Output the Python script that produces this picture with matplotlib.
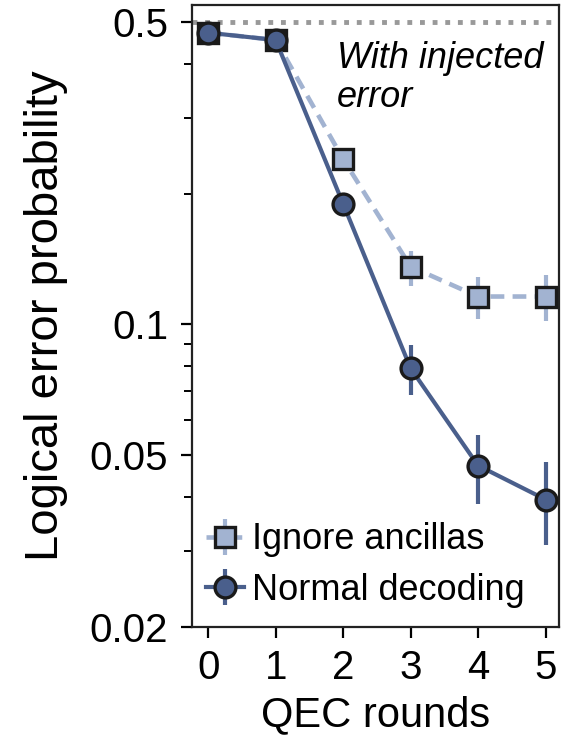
import matplotlib
matplotlib.use("Agg")
import matplotlib.pyplot as plt
import matplotlib.ticker as mticker
import numpy as np

plt.rcParams['font.family'] = ['Liberation Sans', 'DejaVu Sans']

# data
rounds = [0, 1, 2, 3, 4, 5]

normal = [0.472, 0.454, 0.190, 0.0792, 0.0472, 0.0394]
normal_lo = [0.472, 0.454, 0.190, 0.0687, 0.0385, 0.0309]
normal_hi = [0.472, 0.454, 0.190, 0.0895, 0.0556, 0.0480]

ignore = [0.472, 0.454, 0.241, 0.136, 0.116, 0.116]
ignore_lo = [0.472, 0.454, 0.241, 0.123, 0.103, 0.102]
ignore_hi = [0.472, 0.454, 0.241, 0.148, 0.129, 0.130]

yticks = [0.02, 0.05, 0.1, 0.5]
ytick_labels = ['0.02', '0.05', '0.1', '0.5']

dark = '#4a5f8c'
light = '#a2b3d1'

fig = plt.figure(figsize=(5.62, 7.44), dpi=100)
ax = fig.add_axes([0.3416, 0.1573, 0.6531, 0.836])

ax.axhline(0.5, color='#999999', ls=(0, (1, 1.6)), lw=3.5, zorder=1)

def err(v, lo, hi):
    v, lo, hi = np.array(v), np.array(lo), np.array(hi)
    return [v - lo, hi - v]

ax.errorbar(rounds, ignore, yerr=err(ignore, ignore_lo, ignore_hi),
            color=light, ls=(0, (3, 1.8)), lw=3.3, elinewidth=3, capsize=0,
            marker='s', ms=15, mfc=light, mec='#1a1a1a', mew=2.4,
            label='Ignore ancillas', zorder=2)
ax.errorbar(rounds, normal, yerr=err(normal, normal_lo, normal_hi),
            color=dark, ls='-', lw=3, elinewidth=3, capsize=0,
            marker='o', ms=15, mfc=dark, mec='#1a1a1a', mew=2.4,
            label='Normal decoding', zorder=3)

ax.set_yscale('log')
ax.set_ylim(0.02, 0.547)
ax.set_xlim(-0.24, 5.2)
ax.set_yticks(yticks)
ax.set_yticklabels(ytick_labels)
ax.yaxis.set_minor_locator(mticker.LogLocator(base=10, subs=np.arange(2, 10)))
ax.yaxis.set_minor_formatter(mticker.NullFormatter())
ax.set_xticks(rounds)

ax.tick_params(axis='both', which='major', labelsize=29, length=8, width=1.6)
ax.tick_params(axis='y', which='major', pad=9)
ax.tick_params(axis='x', which='major', pad=8)
ax.tick_params(axis='y', which='minor', length=5.5, width=1.4)
for s in ax.spines.values():
    s.set_linewidth(1.6)
    s.set_color('#222222')

ax.set_xlabel('QEC rounds', fontsize=30, labelpad=6)
ax.set_ylabel('Logical error probability', fontsize=34, labelpad=16)

ax.text(1.91, 0.452, 'With injected\nerror', fontsize=26, style='italic',
        ha='left', va='top', linespacing=1.15)

leg = ax.legend(loc='lower left', fontsize=26, frameon=False, handlelength=1.05,
                handletextpad=0.22, borderaxespad=0.0, labelspacing=0.42,
                bbox_to_anchor=(0.0, 0.008))

fig.savefig('out.png', dpi=100)
